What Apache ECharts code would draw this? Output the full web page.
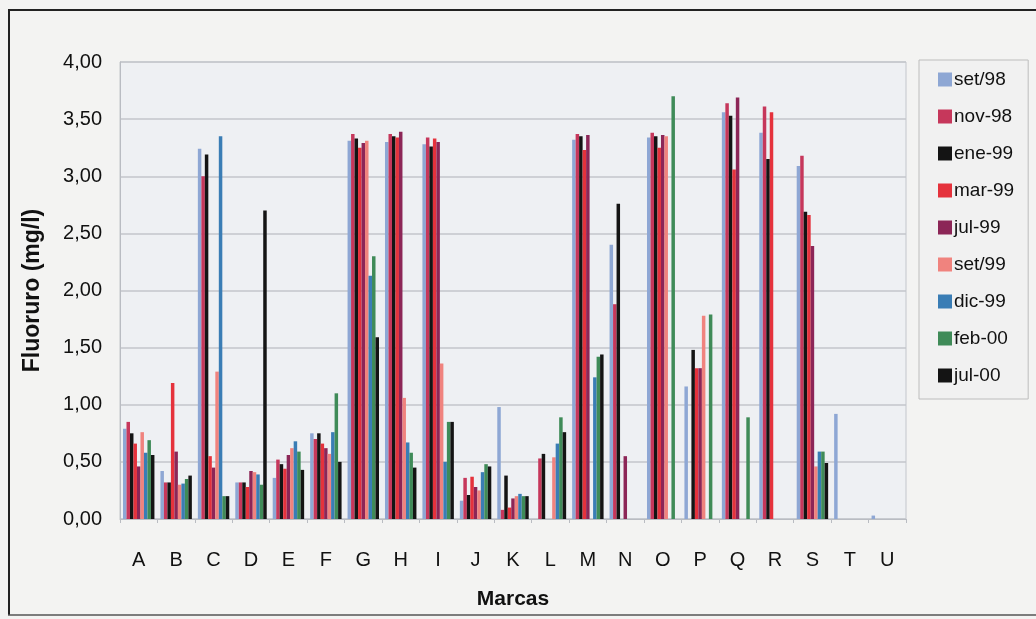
<!DOCTYPE html>
<html>
<head>
<meta charset="utf-8">
<script src="https://cdn.jsdelivr.net/npm/echarts@6/dist/echarts.min.js"></script>
<style>
html,body{margin:0;padding:0;background:#f3f3f2;}
#chart{width:1036px;height:619px;}
</style>
</head>
<body>
<div id="chart"></div>
<script>
const categories = ['A','B','C','D','E','F','G','H','I','J','K','L','M','N','O','P','Q','R','S','T','U'];
const seriesNames = ['set/98','nov-98','ene-99','mar-99','jul-99','set/99','dic-99','feb-00','jul-00'];
const set98 = [0.79,0.42,3.24,0.32,0.36,0.75,3.31,3.30,3.28,0.16,0.98,0.00,3.32,2.40,3.34,1.16,3.56,3.38,3.09,0.92,0.03];
const nov98 = [0.85,0.32,3.00,0.32,0.52,0.70,3.37,3.37,3.34,0.36,0.08,0.53,3.37,1.88,3.38,0.00,3.64,3.61,3.18,0.00,0.00];
const ene99 = [0.75,0.32,3.19,0.32,0.48,0.75,3.33,3.35,3.26,0.21,0.38,0.57,3.35,2.76,3.35,1.48,3.53,3.15,2.69,0.00,0.00];
const mar99 = [0.66,1.19,0.55,0.28,0.44,0.66,3.25,3.34,3.33,0.37,0.10,0.00,3.23,0.00,3.25,1.32,3.06,3.56,2.66,0.00,0.00];
const jul99 = [0.46,0.59,0.45,0.42,0.56,0.62,3.29,3.39,3.30,0.28,0.18,0.00,3.36,0.55,3.36,1.32,3.69,0.00,2.39,0.00,0.00];
const set99 = [0.76,0.30,1.29,0.41,0.62,0.57,3.31,1.06,1.36,0.25,0.20,0.54,0.00,0.00,3.35,1.78,0.00,0.00,0.46,0.00,0.00];
const dic99 = [0.58,0.31,3.35,0.39,0.68,0.76,2.13,0.67,0.50,0.41,0.22,0.66,1.24,0.00,0.00,0.00,0.00,0.00,0.59,0.00,0.00];
const feb00 = [0.69,0.35,0.20,0.30,0.59,1.10,2.30,0.58,0.85,0.48,0.20,0.89,1.42,0.00,3.70,1.79,0.89,0.00,0.59,0.00,0.00];
const jul00 = [0.56,0.38,0.20,2.70,0.43,0.50,1.59,0.45,0.85,0.46,0.20,0.76,1.44,0.00,0.00,0.00,0.00,0.00,0.49,0.00,0.00];
const yTicks = [0,0.5,1,1.5,2,2.5,3,3.5,4];

const seriesData = [set98,nov98,ene99,mar99,jul99,set99,dic99,feb00,jul00];
const colors = ['#8ea7d4','#c6375b','#141414','#e5323c','#8c2657','#f0837e','#3a7db5','#3f8b58','#141414'];
const FONT = '"Liberation Sans", Arial, sans-serif';

const chart = echarts.init(document.getElementById('chart'));
chart.setOption({
  backgroundColor: '#f3f3f2',
  animation: false,
  color: colors,
  grid: { left: 120, right: 130, top: 62, bottom: 100, show: true, backgroundColor: '#eef0f3', borderColor: '#c3c6cb', borderWidth: 1 },
  legend: {
    orient: 'vertical',
    left: 919, top: 60,
    padding: [10, 14, 14, 19],
    itemWidth: 14, itemHeight: 14, itemGap: 18,
    backgroundColor: '#f1f1f1',
    borderColor: '#bdbdbd', borderWidth: 1,
    icon: 'rect',
    textStyle: { fontFamily: FONT, fontSize: 19, color: '#111', lineHeight: 18, padding: [0,0,0,-3] },
    data: seriesNames
  },
  xAxis: {
    type: 'category',
    data: categories,
    name: 'Marcas',
    nameLocation: 'middle',
    nameGap: 70,
    nameTextStyle: { fontFamily: FONT, fontSize: 21, fontWeight: 'bold', color: '#111' },
    axisLine: { lineStyle: { color: '#b9bcc2', width: 1 } },
    axisTick: { show: true, length: 4, lineStyle: { color: '#b9bcc2' } },
    axisLabel: { fontFamily: FONT, fontSize: 20, color: '#111', margin: 31 }
  },
  yAxis: {
    type: 'value',
    min: 0, max: 4, interval: 0.5,
    name: 'Fluoruro (mg/l)',
    nameLocation: 'middle',
    nameGap: 76,
    nameTextStyle: { fontFamily: FONT, fontSize: 23, fontWeight: 'bold', color: '#111' },
    axisLine: { show: true, lineStyle: { color: '#b9bcc2' } },
    axisTick: { show: false },
    splitLine: { lineStyle: { color: '#c3c6cb', width: 1.5 } },
    axisLabel: {
      fontFamily: FONT, fontSize: 20, color: '#111', margin: 18,
      formatter: v => (yTicks.indexOf(v) >= 0 ? v.toFixed(2).replace('.', ',') : '')
    }
  },
  series: seriesNames.map((n, i) => ({
    name: n,
    type: 'bar',
    data: seriesData[i],
    barGap: '0%',
    barCategoryGap: '16%',
    itemStyle: { color: colors[i] }
  })),
  graphic: [
    { type: 'line', shape: { x1: 8, y1: 10, x2: 1036, y2: 10 }, style: { stroke: '#222', lineWidth: 2 } },
    { type: 'line', shape: { x1: 9, y1: 10, x2: 9, y2: 615 }, style: { stroke: '#222', lineWidth: 2 } },
    { type: 'line', shape: { x1: 8, y1: 615, x2: 1036, y2: 615 }, style: { stroke: '#555', lineWidth: 1.5 } }
  ]
});
</script>
</body>
</html>
